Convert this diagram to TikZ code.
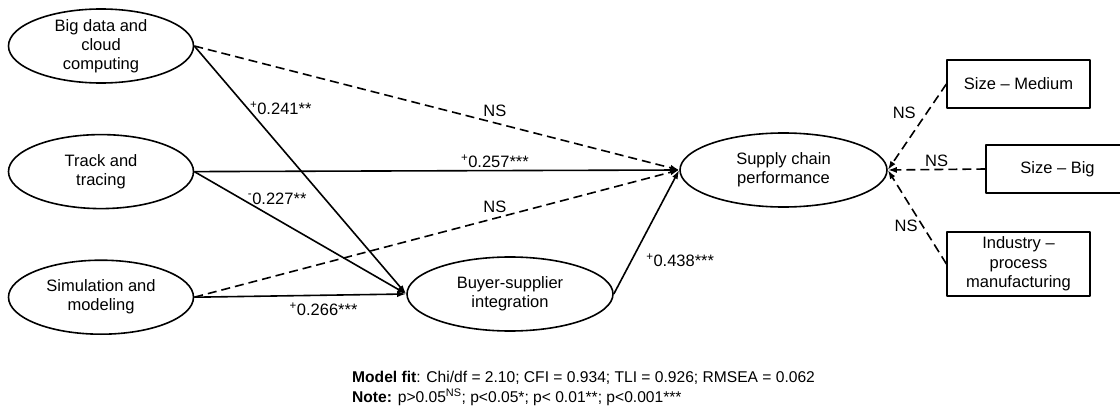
\documentclass[tikz,border=0pt]{standalone}
\usepackage{fontspec}
\setmainfont{Liberation Sans}
\usepackage{tikz}
\usetikzlibrary{arrows,arrows.meta,positioning,shapes.geometric}

\begin{document}
\begin{tikzpicture}[x=1pt,y=-1pt,node distance=50pt,>={Latex[length=9pt,width=6pt]},line join=bevel,
  lat/.style={draw,ellipse,line width=1.6pt,minimum width=185pt,minimum height=74pt,inner sep=-2pt,align=center,font=\fontsize{16.5}{19}\selectfont},
  obs/.style={draw,rectangle,line width=1.2pt,minimum width=143pt,minimum height=48pt,align=center,font=\fontsize{16.5}{19.5}\selectfont},
  lbl/.style={font=\fontsize{16.5}{19}\selectfont,inner sep=2pt},
  sig/.style={->,line width=1.6pt},
  ns/.style={->,line width=1.6pt,dash pattern=on 9pt off 5pt}]
\useasboundingbox (0,0) rectangle (1120,412);

\node [lat] at (101,46) (bd) {Big data and\\cloud\\computing};
\node [lat,below=50pt of bd] (tt) {Track and\\tracing};
\node [lat,below=50pt of tt] (sm) {Simulation and\\modeling};
\node [lat,minimum width=206pt] at (510,294) (bsi) {Buyer-supplier\\integration};
\node [lat,minimum width=207pt] at (783.5,170) (scp) {Supply chain\\performance};

\node [obs] at (1018.5,84) (med) {Size -- Medium};
\node [obs] at (1057.5,169) (big) {Size -- Big};
\node [obs,minimum height=64pt] at (1018.5,264) (ind) {Industry --\\process\\manufacturing};

\path (bd.east) edge [sig] node[lbl,pos=0.25,right] {\textsuperscript{+}0.241**} (bsi.west);
\path (bd.east) edge [ns] node[lbl,pos=0.62,above=3pt] {NS} (scp.west);
\path (tt.east) edge [sig] node[lbl,pos=0.62,above] {\textsuperscript{+}0.257***} (scp.west);
\path (tt.east) edge [sig] node[lbl,pos=0.24,anchor=south west,yshift=-6pt] {\textsuperscript{-}0.227**} (bsi.west);
\path (sm.east) edge [ns] node[lbl,pos=0.62,above=3pt] {NS} (scp.west);
\path (sm.east) edge [sig] node[lbl,pos=0.61,below=5pt] {\textsuperscript{+}0.266***} (bsi.west);
\path (bsi.east) edge [sig] node[lbl,pos=0.27,right=12pt] {\textsuperscript{+}0.438***} (scp.west);

\path (med.west) edge [ns] node[lbl,pos=0.34,left=8pt] {NS} (scp.east);
\path (big.west) edge [ns] node[lbl,pos=0.5,above] {NS} (scp.east);
\path (ind.west) edge [ns] node[lbl,pos=0.41,left=2pt] {NS} (scp.east);

\node [anchor=west,align=left,inner sep=0pt,font=\fontsize{15.6}{20}\selectfont] at (352,388) (fit) {\textbf{Model fit}: Chi/df = 2.10; CFI = 0.934; TLI = 0.926; RMSEA = 0.062\\\textbf{Note:} p>0.05\textsuperscript{NS}; p<0.05*; p< 0.01**; p<0.001***};
\end{tikzpicture}
\end{document}
